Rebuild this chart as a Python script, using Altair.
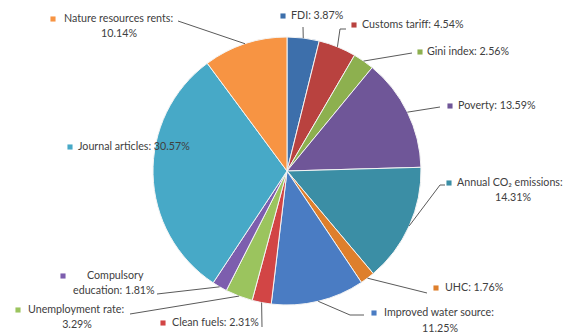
import math
import altair as alt
import pandas as pd

# ---------------- data ----------------
categories = [
    "FDI", "Customs tariff", "Gini index", "Poverty", "Annual CO₂ emissions",
    "UHC", "Improved water source", "Clean fuels", "Unemployment rate",
    "Compulsory education", "Journal articles", "Nature resources rents",
]
shares = [3.87, 4.54, 2.56, 13.59, 14.31, 1.76, 11.25, 2.31, 3.29, 1.81, 30.57, 10.14]
colors = [
    "#3D6FAB", "#B9423F", "#8DB04F", "#6F5698", "#3B8EA5", "#DE7F2C",
    "#4A7CC3", "#D24545", "#9BC45E", "#7D5EAE", "#47A9C7", "#F79443",
]

# ---------------- layout (page pixels) ----------------
W, H = 555, 328
OFF = 8
CX, CY, R = 287, 171, 134
FONT = "Lato"
FS = 10.7
TXT = "#404040"
LINE = "#5a5a5a"

# per label: marker pos, words on first line, line anchors, leader bend/end points
layout = {
    "FDI": dict(m=(283, 16), k=None, l1=(291, 16), l2=None, lead=[(303, 27)]),
    "Customs tariff": dict(m=(354, 25), k=None, l1=(362, 25), l2=None, lead=[(340, 29), (346, 29)]),
    "Gini index": dict(m=(420, 52), k=None, l1=(427, 52), l2=None, lead=[(412, 53)]),
    "Poverty": dict(m=(450, 106), k=None, l1=(458, 106), l2=None, lead=[(440, 107)]),
    "Annual CO₂ emissions": dict(m=(449, 183), k=3, l1=(457, 183), l2=(513, 198, "center"), lead=[(440, 185), (445, 185)]),
    "UHC": dict(m=(436, 288), k=None, l1=(445, 288), l2=None, lead=[(427, 293)]),
    "Improved water source": dict(m=(374, 313), k=3, l1=(384, 313), l2=(440, 329, "center"), lead=[(350, 315), (364, 315)]),
    "Clean fuels": dict(m=(163, 323), k=None, l1=(172, 323), l2=None, lead=[(262, 327)]),
    "Unemployment rate": dict(m=(18, 310), k=2, l1=(28, 310), l2=(77, 325, "center"), lead=[(130, 314)]),
    "Compulsory education": dict(m=(63, 276), k=1, l1=(87, 276), l2=(73, 291, "left"), lead=[(157, 294)]),
    "Journal articles": dict(m=(70, 147), k=None, l1=(78, 147), l2=None, lead=[]),
    "Nature resources rents": dict(m=(53, 19), k=3, l1=(64, 19), l2=(119, 34, "center"), lead=[(178, 21)]),
}

# ---------------- tables ----------------
pie_df = pd.DataFrame({"category": categories, "share": shares, "idx": range(len(categories))})

total = sum(shares)
cum = 0.0
text_rows, marker_rows, lead_rows = [], [], []
for cat, val in zip(categories, shares):
    mid = (cum + val / 2) / total * 2 * math.pi
    cum += val
    lay = layout[cat]
    full = f"{cat}: {val:.2f}%"
    words = full.split(" ")
    if lay["k"]:
        line1 = " ".join(words[: lay["k"]])
        line2 = " ".join(words[lay["k"]:])
    else:
        line1, line2 = full, None
    text_rows.append(dict(x=lay["l1"][0], y=lay["l1"][1], text=line1, align="left"))
    if line2:
        x2, y2, al = lay["l2"]
        text_rows.append(dict(x=x2, y=y2, text=line2, align=al))
    marker_rows.append(dict(x=lay["m"][0], y=lay["m"][1], category=cat))
    if lay["lead"]:
        sx = CX + R * math.sin(mid)
        sy = CY - R * math.cos(mid)
        pts = [(sx, sy)] + lay["lead"]
        for i, (px, py) in enumerate(pts):
            lead_rows.append(dict(category=cat, seq=i, x=px, y=py))

text_df = pd.DataFrame(text_rows)
marker_df = pd.DataFrame(marker_rows)
lead_df = pd.DataFrame(lead_rows)

xs = alt.Scale(domain=[OFF, OFF + W], nice=False, zero=False)
ys = alt.Scale(domain=[OFF, OFF + H], nice=False, zero=False, reverse=True)
color_scale = alt.Scale(domain=categories, range=colors)

pie = alt.Chart(pie_df).mark_arc(outerRadius=R, stroke="#f4f4f4", strokeWidth=1).encode(
    theta=alt.Theta("share:Q", stack=True),
    color=alt.Color("category:N", scale=color_scale, legend=None),
    order=alt.Order("idx:Q"),
    x=alt.value(CX - OFF),
    y=alt.value(CY - OFF),
)

leaders = alt.Chart(lead_df).mark_line(color=LINE, strokeWidth=1).encode(
    x=alt.X("x:Q", scale=xs, axis=None),
    y=alt.Y("y:Q", scale=ys, axis=None),
    detail="category:N",
    order="seq:Q",
)

markers = alt.Chart(marker_df).mark_square(size=26, opacity=1).encode(
    x=alt.X("x:Q", scale=xs, axis=None),
    y=alt.Y("y:Q", scale=ys, axis=None),
    color=alt.Color("category:N", scale=color_scale, legend=None),
)

def text_layer(al):
    return alt.Chart(text_df[text_df["align"] == al]).mark_text(
        align=al, baseline="middle", font=FONT, fontSize=FS, color=TXT
    ).encode(
        x=alt.X("x:Q", scale=xs, axis=None),
        y=alt.Y("y:Q", scale=ys, axis=None),
        text="text:N",
    )

chart = alt.layer(pie, leaders, markers, text_layer("left"), text_layer("center")).properties(
    width=W, height=H, padding=0, autosize=alt.AutoSizeParams(type="none")
).configure_view(stroke=None)

chart.save("out.html", embed_options={"renderer": "svg", "actions": False})
